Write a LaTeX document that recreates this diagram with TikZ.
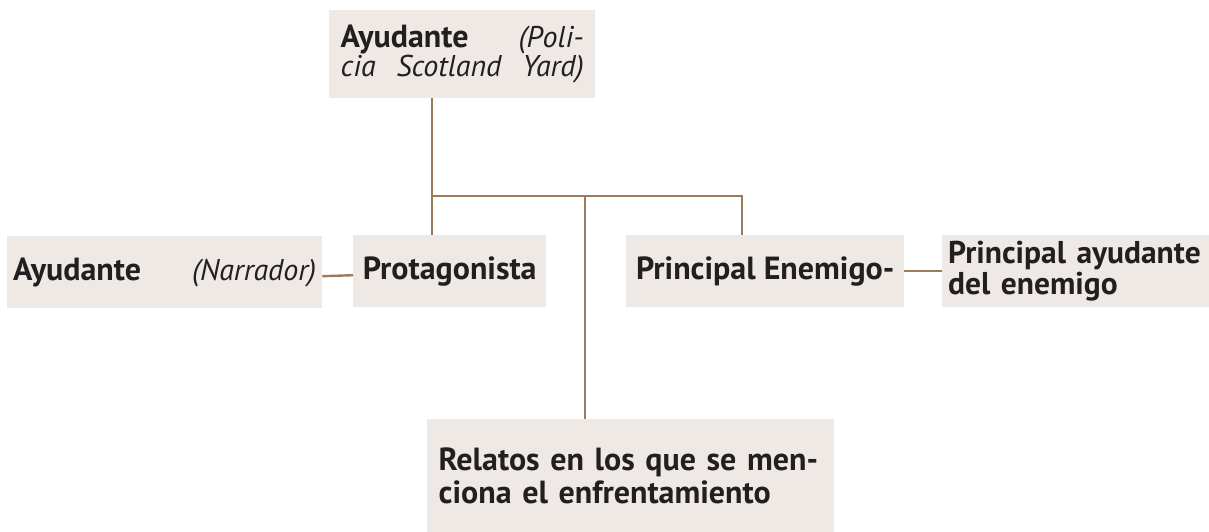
\documentclass[tikz,border=0pt]{standalone}
\usepackage{fontspec}
\setmainfont{PT Sans}
\usepackage{xcolor}
\usetikzlibrary{positioning}
\definecolor{boxfill}{HTML}{EEE9E5}
\definecolor{linebrown}{HTML}{9C7B5C}
\definecolor{inktext}{HTML}{231F20}
\newcommand\notelabel[1]{{\fontsize{30}{27}\selectfont\itshape #1}}
\tikzset{box/.style={rectangle,fill=boxfill,anchor=north west,inner sep=0pt,text=inktext,font=\fontsize{32}{27}\selectfont},
link/.style={draw=linebrown,line width=2.4pt}}

\begin{document}
\begin{tikzpicture}[x=1pt,y=-1pt]
        \useasboundingbox (0,0) rectangle (1209,532);
        \node[box,minimum width=266pt,minimum height=88pt,text width=243pt,align=left] (top) at (329,10) {\textbf{Ayudante}\hfill\notelabel{(Poli-}\\\notelabel{cia}\hfill\notelabel{Scotland}\hfill\notelabel{Yard)}};
        \node[box,minimum width=315pt,minimum height=72pt,text width=303pt,align=left] (narrador) at (7,236) {\textbf{Ayudante}\hfill\notelabel{(Narrador)}};
        \node[box,minimum width=193pt,minimum height=72pt] (prota) at (353,235) {\textbf{Protagonista}};
        \node[box,minimum width=278pt,minimum height=72pt] (enemigo) at (626,235) {\textbf{Principal Enemigo-}};
        \node[box,minimum width=267pt,minimum height=72pt,text width=255pt,align=left,font=\fontsize{31.5}{31}\selectfont] (ayenemigo) at (942,235) {\textbf{Principal ayudante}\\\textbf{del enemigo}};
        \node[box,minimum width=407pt,minimum height=113pt,text width=384pt,align=left,font=\fontsize{32}{33}\selectfont] (relatos) at (427,419) {\textbf{Relatos en los que se men-}\\\textbf{ciona el enfrentamiento}};

        \coordinate (jl) at (432,196);
        \coordinate (jm) at (585,196);
        \coordinate (jr) at (742,196);

        \draw[link] (top.south -| jl) -- (jl) -- (jr) -- (enemigo.north -| jr);
        \draw[link] (jl) -- (prota.north -| jl);
        \draw[link] (jm) -- (relatos.north -| jm);
        \draw[link] ([yshift=-4pt]narrador.east) -- ([yshift=-4pt]prota.west);
        \draw[link] (enemigo.east) -- (ayenemigo.west);
    \end{tikzpicture}
\end{document}
